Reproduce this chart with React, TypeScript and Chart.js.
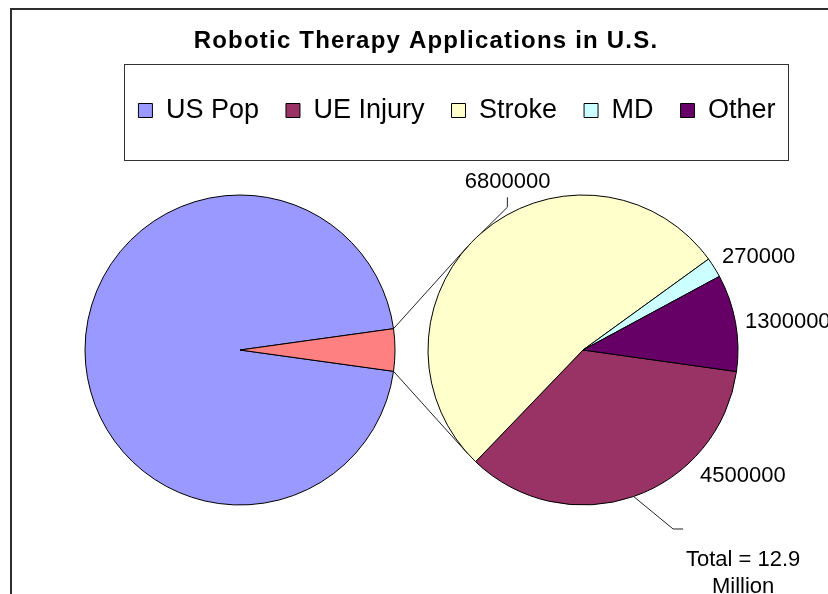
import React, { useEffect, useRef } from "react";
import { Chart, registerables } from "chart.js";
Chart.register(...registerables);

// ---------- data ----------
const titleText = "Robotic Therapy Applications in U.S.";
const legendCategories = ["US Pop", "UE Injury", "Stroke", "MD", "Other"];
const legendColors = ["#9999FF", "#993366", "#FFFFCC", "#CCFFFF", "#660066"];
const mainLabels = ["US Pop", "Other"];
const usPopulation = 280000000;
const mainColors = ["#9999FF", "#FF8080"];
const detailLabels = ["UE Injury", "Stroke", "MD", "Other"];
const detailValues = [4500000, 6800000, 270000, 1300000];
const detailColors = ["#993366", "#FFFFCC", "#CCFFFF", "#660066"];
const totalNote = ["Total = 12.9", "Million"];

// ---------- styles ----------
const FONT = "'Liberation Sans', Arial, sans-serif";
// label placement relative to the slice's outer mid-point (style only)
const labelStyle = [
  { leader: [[39.5, 32.5], [49.5, 32.5]], text: [66.5, -14.5], align: "left" },
  { leader: [[26.1, -25.8], [26.1, -35.8]], text: [26.4, -44.8], align: "center" },
  { leader: [], text: [7.7, -4.6], align: "left" },
  { leader: [], text: [9.4, 5.2], align: "left" },
];
const noteOffset = [109.5, 69.5];
const noteLineGap = 27;

export default function App() {
  const tRef = useRef<HTMLCanvasElement>(null);
  const lRef = useRef<HTMLCanvasElement>(null);
  const p1Ref = useRef<HTMLCanvasElement>(null);
  const p2Ref = useRef<HTMLCanvasElement>(null);

  useEffect(() => {
    Chart.defaults.font.family = FONT;
    Chart.defaults.color = "#000";
    const charts: Chart[] = [];
    const base = {
      responsive: false,
      animation: false as const,
      events: [] as any[],
      devicePixelRatio: 1,
    };

    // title + frame
    const framePlugin = {
      id: "frame",
      beforeDraw(chart: any) {
        const ctx = chart.ctx;
        ctx.save();
        ctx.strokeStyle = "#2e2e2e";
        ctx.lineWidth = 2;
        ctx.strokeRect(11, 9, 2000, 2000);
        ctx.restore();
        // the original title is set slightly wider than plain Arial
        ctx.letterSpacing = "1.2px";
      },
      afterDraw(chart: any) {
        chart.ctx.letterSpacing = "0px";
      },
    };
    charts.push(
      new Chart(tRef.current!, {
        type: "pie",
        data: { labels: [], datasets: [] },
        options: {
          ...base,
          layout: { padding: { left: 24, right: 0, top: 27.3 } },
          plugins: {
            legend: { display: false },
            tooltip: { enabled: false },
            title: {
              display: true,
              text: titleText,
              color: "#000",
              font: { size: 24, weight: "bold", family: FONT },
              padding: 0,
            },
          },
        } as any,
        plugins: [framePlugin],
      })
    );

    // legend
    const legendBoxPlugin = {
      id: "legendBox",
      afterDraw(chart: any) {
        const hb = chart.legend.legendHitBoxes;
        if (!hb || !hb.length) return;
        const last = hb[hb.length - 1];
        const left = Math.round(hb[0].left - 14) + 0.5;
        const right = Math.round(last.left + last.width + 12) + 0.5;
        const cy = hb[0].top + hb[0].height / 2;
        const top = Math.round(cy - 47) + 0.5;
        const bottom = Math.round(cy + 49) + 0.5;
        const ctx = chart.ctx;
        ctx.save();
        ctx.strokeStyle = "#333";
        ctx.lineWidth = 1;
        ctx.strokeRect(left, top, right - left, bottom - top);
        ctx.restore();
      },
    };
    charts.push(
      new Chart(lRef.current!, {
        type: "pie",
        data: { labels: [], datasets: [] },
        options: {
          ...base,
          layout: { padding: { left: 86, right: 0, top: 70 } },
          plugins: {
            tooltip: { enabled: false },
            title: { display: false },
            legend: {
              display: true,
              position: "top",
              align: "center",
              labels: {
                boxWidth: 14,
                boxHeight: 14,
                padding: 27,
                color: "#000",
                font: { size: 27, family: FONT },
                generateLabels: () =>
                  legendCategories.map((c, i) => ({
                    text: c,
                    fillStyle: legendColors[i],
                    strokeStyle: "#000",
                    lineWidth: 1,
                    hidden: false,
                    index: i,
                  })),
              },
            },
          },
        } as any,
        plugins: [legendBoxPlugin],
      })
    );

    // left (main) pie
    const detailTotal = detailValues.reduce((a, b) => a + b, 0);
    const mainValues = [usPopulation, detailTotal];
    const halfAngle = (180 * detailTotal) / (usPopulation + detailTotal);
    const p1 = new Chart(p1Ref.current!, {
      type: "pie",
      data: {
        labels: mainLabels,
        datasets: [
          {
            data: mainValues,
            backgroundColor: mainColors,
            borderColor: "#000",
            borderWidth: 1,
          },
        ],
      },
      options: {
        ...base,
        radius: 155,
        rotation: 90 + halfAngle,
        layout: { padding: { left: 85, right: 433, top: 195, bottom: 89 } },
        plugins: {
          legend: { display: false },
          tooltip: { enabled: false },
          title: { display: false },
        },
      } as any,
    });
    charts.push(p1);

    // right (detail) pie with labels and connectors
    const detailPlugin = {
      id: "detailLabels",
      afterDatasetsDraw(chart: any) {
        const ctx = chart.ctx;
        const arcs = chart.getDatasetMeta(0).data;
        ctx.save();
        ctx.strokeStyle = "#222";
        ctx.lineWidth = 1;
        ctx.fillStyle = "#000";
        ctx.font = `22px ${FONT}`;
        ctx.textBaseline = "alphabetic";
        let ueEdge = [0, 0];
        arcs.forEach((arc: any, i: number) => {
          const { x, y, startAngle, endAngle, outerRadius } = arc.getProps(
            ["x", "y", "startAngle", "endAngle", "outerRadius"],
            true
          );
          const mid = (startAngle + endAngle) / 2;
          const ex = x + outerRadius * Math.cos(mid);
          const ey = y + outerRadius * Math.sin(mid);
          if (i === 0) ueEdge = [ex, ey];
          const st = labelStyle[i];
          if (st.leader.length) {
            ctx.beginPath();
            ctx.moveTo(ex, ey);
            st.leader.forEach(([dx, dy]) => ctx.lineTo(ex + dx, ey + dy));
            ctx.stroke();
          }
          ctx.textAlign = st.align as CanvasTextAlign;
          ctx.fillText(String(detailValues[i]), ex + st.text[0], ey + st.text[1]);
        });
        // total note
        ctx.textAlign = "center";
        totalNote.forEach((line, k) => {
          ctx.fillText(line, ueEdge[0] + noteOffset[0], ueEdge[1] + noteOffset[1] + k * noteLineGap);
        });
        // connectors from the combined slice to the detail pie
        const a0 = arcs[0].getProps(["x", "y", "outerRadius"], true);
        const cx = a0.x, cy = a0.y, r = a0.outerRadius;
        const m = p1.getDatasetMeta(0).data[1] as any;
        const mp = m.getProps(["x", "y", "startAngle", "endAngle", "outerRadius"], true);
        const pts = [mp.startAngle, mp.endAngle].map((ang: number) => [
          mp.x + mp.outerRadius * Math.cos(ang),
          mp.y + mp.outerRadius * Math.sin(ang),
        ]);
        pts.sort((p, q) => p[1] - q[1]);
        pts.forEach((q, k) => {
          const dx = cx - q[0], dy = cy - q[1];
          const d = Math.hypot(dx, dy);
          const th = Math.atan2(dy, dx);
          const al = Math.asin(Math.min(1, r / d));
          const L = Math.sqrt(Math.max(0, d * d - r * r));
          const dir = k === 0 ? th - al : th + al;
          ctx.beginPath();
          ctx.moveTo(q[0], q[1]);
          ctx.lineTo(q[0] + L * Math.cos(dir), q[1] + L * Math.sin(dir));
          ctx.stroke();
        });
        ctx.restore();
      },
    };
    const p2 = new Chart(p2Ref.current!, {
      type: "pie",
      data: {
        labels: detailLabels,
        datasets: [
          {
            data: detailValues,
            backgroundColor: detailColors,
            borderColor: "#000",
            borderWidth: 1,
          },
        ],
      },
      options: {
        ...base,
        radius: 155,
        rotation: 98,
        layout: { padding: { left: 428, right: 90, top: 195, bottom: 89 } },
        plugins: {
          legend: { display: false },
          tooltip: { enabled: false },
          title: { display: false },
        },
      } as any,
      plugins: [detailPlugin],
    });
    charts.push(p2);

    return () => charts.forEach((c) => c.destroy());
  }, []);

  const cs: React.CSSProperties = { position: "absolute", left: 0, top: 0 };
  return (
    <div
      style={{
        position: "fixed",
        left: 0,
        top: 0,
        width: 828,
        height: 594,
        overflow: "hidden",
        background: "#fff",
      }}
    >
      <canvas ref={tRef} width={828} height={594} style={cs} />
      <canvas ref={lRef} width={828} height={594} style={cs} />
      <canvas ref={p1Ref} width={828} height={594} style={cs} />
      <canvas ref={p2Ref} width={828} height={594} style={cs} />
    </div>
  );
}
